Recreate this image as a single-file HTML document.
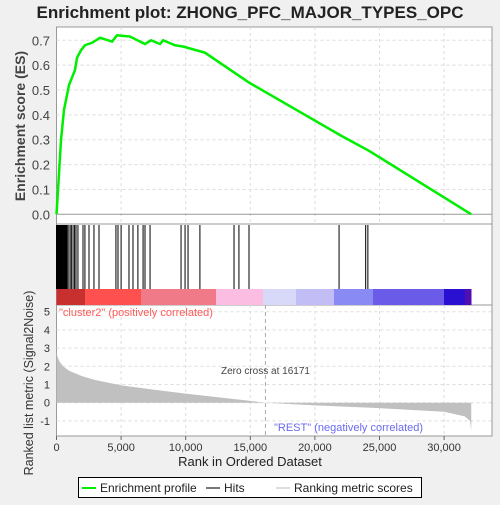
<!DOCTYPE html>
<html><head><meta charset="utf-8"><style>
body{margin:0;background:#f0f0f0;font-family:"Liberation Sans",sans-serif}
svg text{font-family:"Liberation Sans",sans-serif}
</style></head><body>
<svg width="500" height="500" xmlns="http://www.w3.org/2000/svg">
<rect width="500" height="500" fill="#f0f0f0"/>
<text x="250" y="18" text-anchor="middle" font-size="17" font-weight="bold" fill="#222">Enrichment plot: ZHONG_PFC_MAJOR_TYPES_OPC</text>
<g id="g"></g>
</svg>
<script>
const esRanks=[0,120,350,580,735,970,1200,1430,1590,1900,2200,2750,3370,4300,4680,5690,6850,7310,8010,8250,9170,9790,11490,14900,22000,24200,32100];
const esValues=[0,0.1,0.3,0.42,0.46,0.52,0.55,0.58,0.63,0.66,0.68,0.69,0.71,0.695,0.72,0.715,0.685,0.70,0.685,0.70,0.68,0.675,0.65,0.53,0.317,0.255,0];
const hitRanks=[0,40,80,120,160,200,240,280,320,360,400,450,500,550,600,650,700,750,810,900,1045,1150,1280,1400,1510,1660,2050,2200,2515,2900,3290,4600,4760,5000,5610,5920,6300,6700,6850,7240,9640,9950,10180,11100,13740,14120,14900,21870,23930,24100];
const metricRanks=[0,50,200,500,1000,2000,3000,5000,7500,10000,12500,15000,16171,20000,25000,30000,31600,32000,32100];
const metricValues=[2.9,2.6,2.3,2.0,1.75,1.45,1.25,0.95,0.72,0.5,0.3,0.1,0,-0.15,-0.3,-0.5,-0.75,-1.0,-1.5];
const xTicks=[0,5000,10000,15000,20000,25000,30000];
const esTicks=[0,0.1,0.2,0.3,0.4,0.5,0.6,0.7];
const mTicks=[-1,0,1,2,3,4,5];
const L=56.5,R=492;
const X=r=>L+r*0.01292;
const YE=v=>214.3-v*248.6;
const YM=v=>402.7-v*18.2;
const NS='http://www.w3.org/2000/svg';
const g=document.getElementById('g');
function el(t,a,p){const e=document.createElementNS(NS,t);for(const k in a)e.setAttribute(k,a[k]);(p||g).appendChild(e);return e;}
let p1=el('rect',{x:L,y:27,width:R-L,height:197,fill:'#fff',stroke:'#999'});

let p2=el('rect',{x:L,y:224,width:R-L,height:81,fill:'#fff',stroke:'#999'});

let p3=el('rect',{x:L,y:305,width:R-L,height:131,fill:'#fff',stroke:'#999'});

xTicks.forEach(t=>{if(t>0){el('line',{x1:X(t),x2:X(t),y1:27,y2:224,stroke:'#ddd','stroke-dasharray':'3,3'});el('line',{x1:X(t),x2:X(t),y1:305,y2:436,stroke:'#ddd','stroke-dasharray':'3,3'});}
 const tx=el('text',{x:X(t),y:451,'text-anchor':'middle','font-size':11,fill:'#333'});tx.textContent=t.toLocaleString('en-US');
 
 el('line',{x1:X(t),x2:X(t),y1:436,y2:440,stroke:'#666'});});
esTicks.forEach(t=>{el('line',{x1:L,x2:R,y1:YE(t),y2:YE(t),stroke:t==0?'#999':'#ddd','stroke-dasharray':t==0?'':'3,3'});
 const tx=el('text',{x:50,y:YE(t)+5,'text-anchor':'end','font-size':13,fill:'#444'});tx.textContent=t.toFixed(1);
 });
mTicks.forEach(t=>{el('line',{x1:L,x2:R,y1:YM(t),y2:YM(t),stroke:'#ddd','stroke-dasharray':'3,3'});
 const tx=el('text',{x:50,y:YM(t)+4,'text-anchor':'end','font-size':11,fill:'#333'});tx.textContent=t;
 });
const cb=[[56.5,85,'#c83030'],[85,141,'#ff5050'],[141,216,'#f07a88'],[216,263,'#fbbde2'],[263,296,'#d8d8f8'],[296,334,'#c2bef5'],[334,373,'#8a8af5'],[373,444,'#6a5ce8'],[444,465,'#2a10d0'],[465,471.5,'#5010b0']];
cb.forEach(c=>{const r=el('rect',{x:c[0],y:289,width:c[1]-c[0],height:16,fill:c[2]});});
hitRanks.forEach(h=>{const l=el('line',{x1:X(h),x2:X(h),y1:225,y2:289,stroke:'#000','stroke-width':1});
 });
let d='M'+X(0)+','+YM(0);metricRanks.forEach((r,i)=>d+=' L'+X(r)+','+YM(metricValues[i]));d+=' L'+X(metricRanks[metricRanks.length-1])+','+YM(0)+'Z';
const ma=el('path',{d:d,fill:'#c0c0c0'});
el('line',{x1:X(16171),x2:X(16171),y1:305,y2:436,stroke:'#aaa','stroke-dasharray':'4,3'});
let pts=esRanks.map((r,i)=>X(r)+','+YE(esValues[i])).join(' ');
const es=el('polyline',{points:pts,fill:'none',stroke:'#00ee00','stroke-width':2.5});

function T(x,y,s,txt,a,name,extra){const t=el('text',Object.assign({x:x,y:y,'font-size':s,fill:a},extra||{}));t.textContent=txt;return t;}
T(59,316,11,'"cluster2" (positively correlated)','#ff5a5a','positive-label');
T(274,431,11,'"REST" (negatively correlated)','#6a6af0','negative-label');
T(221,374,10,'Zero cross at 16171','#444','zero-cross-label');
T(250,466,13,'Rank in Ordered Dataset','#222','x-axis-title',{'text-anchor':'middle'});
T(0,0,14,'Enrichment score (ES)','#444','es-axis-title',{'text-anchor':'middle',transform:'translate(25,126) rotate(-90)','font-weight':'bold'});
T(0,0,12.5,'Ranked list metric (Signal2Noise)','#333','metric-axis-title',{'text-anchor':'middle',transform:'translate(33,383) rotate(-90)'});
const lg=el('rect',{x:78.5,y:477.5,width:343,height:20,fill:'#fff',stroke:'#000'});
el('line',{x1:82,x2:96,y1:488,y2:488,stroke:'#00ee00','stroke-width':2});
T(100,492,12,'Enrichment profile','#222','legend-entry-es');
el('line',{x1:206,x2:220,y1:488,y2:488,stroke:'#777','stroke-width':2});
T(224,492,12,'Hits','#222','legend-entry-hits');
el('line',{x1:276,x2:290,y1:488,y2:488,stroke:'#ddd','stroke-width':2});
T(294,492,12,'Ranking metric scores','#222','legend-entry-metric');
</script>
</body></html>
